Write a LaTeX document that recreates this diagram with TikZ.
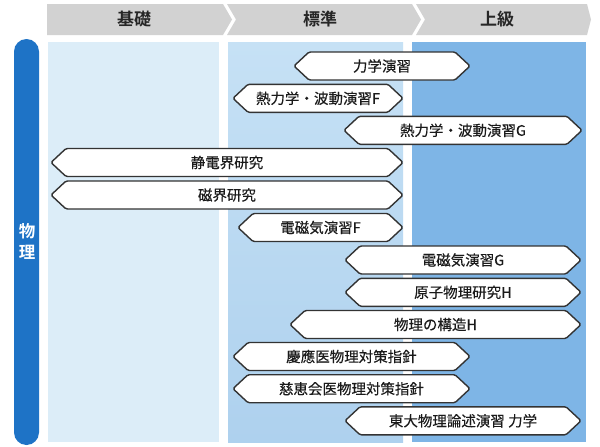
\documentclass[tikz,border=0pt]{standalone}
\usepackage{fontspec}
\setmainfont{Noto Sans CJK JP}
\newfontfamily\jpbold{Noto Sans CJK JP Bold}
\newfontfamily\jpmed[FakeBold=0.35]{Noto Sans CJK JP}
\definecolor{hdrgray}{HTML}{D2D2D2}
\definecolor{hdrtext}{HTML}{262626}
\definecolor{colA}{HTML}{DCEDF8}
\definecolor{colBtop}{HTML}{C6E1F5}
\definecolor{colBbot}{HTML}{AED1EE}
\definecolor{colC}{HTML}{7EB5E6}
\definecolor{barblue}{HTML}{1E73C6}
\definecolor{pillline}{HTML}{333333}
\definecolor{pilltext}{HTML}{1A1A1A}
\tikzset{
  hdrseg/.style={fill=hdrgray, draw=none},
  hdrlabel/.style={text=hdrtext, font=\jpbold\fontsize{17}{20}\selectfont, inner sep=0pt},
  pillshape/.style={fill=white, draw=pillline, line width=1.4pt, rounded corners=1.5pt, line join=round},
  pilllabel/.style={text=pilltext, font=\jpmed\fontsize{14.5}{17}\selectfont, inner sep=0pt},
}
% \pillbox{name}{x1}{x2}{yc}{text}
\newcommand\pillbox[5]{%
  \draw[pillshape] (#2,#4) -- (#2+15,#4-14) -- (#3-15,#4-14) -- (#3,#4)
     -- (#3-15,#4+14) -- (#2+15,#4+14) -- cycle;
  \node[pilllabel] (#1) at ({(#2+#3)/2},#4) {#5};
}
\begin{document}
\begin{tikzpicture}[x=1pt,y=-1pt]
\useasboundingbox (0,0) rectangle (600,447);
\fill[white] (0,0) rectangle (600,447);
% header chevrons
\fill[hdrseg] (47,4) -- (223,4) -- (232,19.5) -- (223,35) -- (47,35) -- cycle;
\fill[hdrseg] (227,4) -- (412,4) -- (421,19.5) -- (412,35) -- (227,35) -- (236,19.5) -- cycle;
\fill[hdrseg] (416,4) -- (587,4) -- (591,19.5) -- (587,35) -- (416,35) -- (425,19.5) -- cycle;
\node[hdrlabel] (h1) at (134,19.5) {基礎};
\node[hdrlabel] (h2) at (320,19.5) {標準};
\node[hdrlabel] (h3) at (497,19.5) {上級};
% columns
\fill[colA] (48,42) rectangle (219,442);
\shade[top color=colBtop, bottom color=colBbot] (228,42) rectangle (403,442);
\fill[colC] (412,42) rectangle (586,442);
% left bar
\fill[barblue, rounded corners=12.5pt] (14,39) rectangle (39,445);
\node[text=white, font=\jpbold\fontsize{16.5}{21}\selectfont, align=center, inner sep=0pt] (subj) at (27,241.5) {物\\理};
% pills
\pillbox{p1}{294}{470}{66}{力学演習}
\pillbox{p2}{233}{403}{98.3}{熱力学・波動演習F}
\pillbox{p3}{344}{582}{130.3}{熱力学・波動演習G}
\pillbox{p4}{51}{403}{162.5}{静電界研究}
\pillbox{p5}{51}{403}{195}{磁界研究}
\pillbox{p6}{238}{403}{227.5}{電磁気演習F}
\pillbox{p7}{345}{581}{260}{電磁気演習G}
\pillbox{p8}{345}{581}{292.3}{原子物理研究H}
\pillbox{p9}{290}{581}{324.5}{物理の構造H}
\pillbox{p10}{233}{470}{356.5}{慶應医物理対策指針}
\pillbox{p11}{233}{470}{388.7}{慈恵会医物理対策指針}
\pillbox{p12}{345}{581}{420.8}{東大物理論述演習 力学}
\end{tikzpicture}
\end{document}
